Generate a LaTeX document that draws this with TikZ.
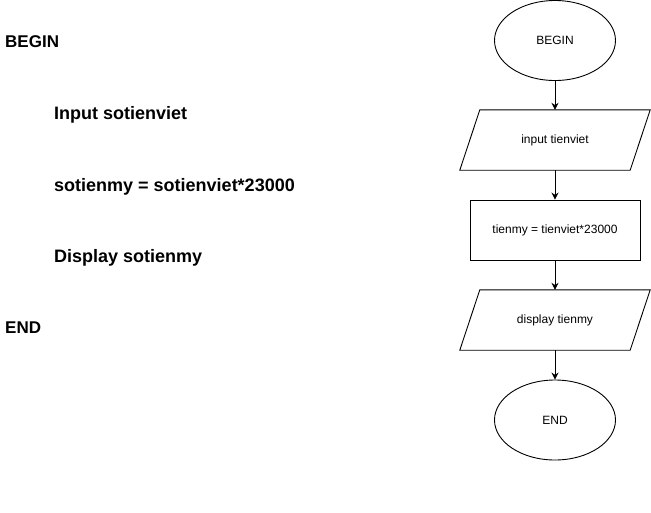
\documentclass[tikz,border=0pt]{standalone}
\usepackage{fontspec}
\setmainfont{Liberation Sans}
\usetikzlibrary{shapes.geometric,arrows.meta}
\begin{document}
\begin{tikzpicture}[x=1pt,y=-1pt,
  every node/.style={font=\fontsize{12}{14}\selectfont},
  shp/.style={draw,line width=0.9pt,inner sep=2pt},
  term/.style={shp,ellipse,minimum width=121pt,minimum height=80pt},
  io/.style={rectangle,inner sep=2pt,minimum width=170pt,minimum height=60pt},
  outline/.style={line width=0.9pt},
  proc/.style={shp,rectangle,minimum width=170pt,minimum height=60pt},
  arr/.style={-{Stealth[length=7pt,width=7pt]},line width=0.9pt},
  pseudo/.style={anchor=base west,inner sep=0pt,font=\fontsize{18}{21}\selectfont\bfseries},
  pseudok/.style={anchor=base west,inner sep=0pt,font=\fontsize{17}{20}\selectfont\bfseries}]
\useasboundingbox (0,0) rectangle (651,512);
% pseudocode
\node[pseudok] (t1) at (5,47) {BEGIN};
\node[pseudo] (t2) at (54,119) {Input sotienviet};
\node[pseudo] (t3) at (54,191) {sotienmy = sotienviet*23000};
\node[pseudo] (t4) at (54,262) {Display sotienmy};
\node[pseudok] (t5) at (5,333) {END};
% flowchart
\node[term] (b) at (555,40.5) {BEGIN};
\node[io] (p1) at (555,140) {input tienviet};
\draw[outline] ([xshift=10pt]p1.north west) -- ([xshift=10pt]p1.north east)
  -- ([xshift=-10pt]p1.south east) -- ([xshift=-10pt]p1.south west) -- cycle;
\node[proc] (r) at (555,230) {tienmy = tienviet*23000};
\node[io] (p2) at (555,320) {display tienmy};
\draw[outline] ([xshift=10pt]p2.north west) -- ([xshift=10pt]p2.north east)
  -- ([xshift=-10pt]p2.south east) -- ([xshift=-10pt]p2.south west) -- cycle;
\node[term] (e) at (555,420) {END};
\draw[arr] (b) -- (p1);
\draw[arr] (p1) -- (r);
\draw[arr] (r) -- (p2);
\draw[arr] (p2) -- (e);
\end{tikzpicture}
\end{document}
